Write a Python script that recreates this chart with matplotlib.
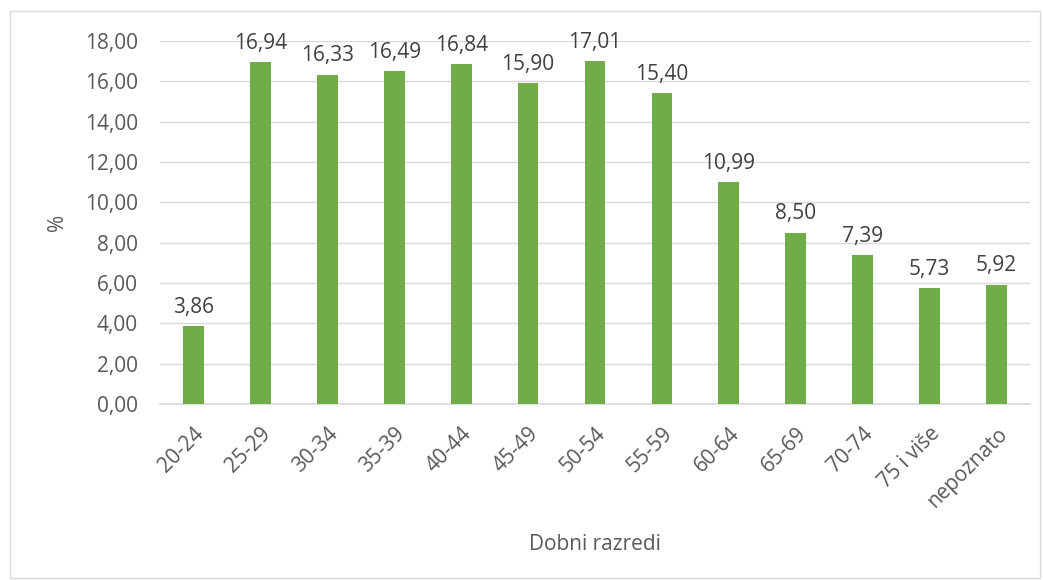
import matplotlib.pyplot as plt
from matplotlib.patches import Rectangle

categories = ["20-24", "25-29", "30-34", "35-39", "40-44", "45-49", "50-54",
              "55-59", "60-64", "65-69", "70-74", "75 i više", "nepoznato"]
values = [3.86, 16.94, 16.33, 16.49, 16.84, 15.90, 17.01,
          15.40, 10.99, 8.50, 7.39, 5.73, 5.92]
yticks = [0, 2, 4, 6, 8, 10, 12, 14, 16, 18]

plt.rcParams['font.family'] = ['Open Sans', 'DejaVu Sans']
txt = '#595959'
grid = '#d9d9d9'
fs = 15

fig = plt.figure(figsize=(10.43, 5.8), dpi=100)
ax = fig.add_axes([160 / 1043, 1 - 404 / 580, 870 / 1043, 363 / 580])

# outer chart border
fig.patches.append(Rectangle((10 / 1043, 2 / 580), 1030 / 1043, 567 / 580,
                             transform=fig.transFigure, fill=False,
                             edgecolor=grid, linewidth=1))

x = range(len(categories))
ax.bar(x, values, width=0.31, color='#70ad47', zorder=3)

for i, v in zip(x, values):
    ax.annotate(f"{v:.2f}".replace('.', ','), (i, v), xytext=(0, 6),
                textcoords='offset points', ha='center', va='bottom',
                fontsize=fs, color='#404040')

ax.set_xlim(-0.5, len(categories) - 0.5)
ax.set_ylim(0, 18)
ax.set_yticks(yticks)
ax.set_yticklabels([f"{t:.2f}".replace('.', ',') for t in yticks])
ax.set_xticks(list(x))
ax.set_xticklabels(categories, rotation=45, ha='right', rotation_mode='anchor')
ax.tick_params(length=0, labelsize=fs, colors=txt)
ax.tick_params(axis='y', pad=16)
ax.tick_params(axis='x', pad=14)

ax.grid(axis='y', color=grid, linewidth=1, zorder=0)
for s in ['top', 'right', 'left']:
    ax.spines[s].set_visible(False)
ax.spines['bottom'].set_color(grid)
ax.spines['bottom'].set_linewidth(1.2)

ax.set_xlabel('Dobni razredi', fontsize=fs, color=txt, labelpad=16)
ax.set_ylabel('%', fontsize=fs, color=txt, labelpad=12)

fig.savefig('out.png', dpi=100)
